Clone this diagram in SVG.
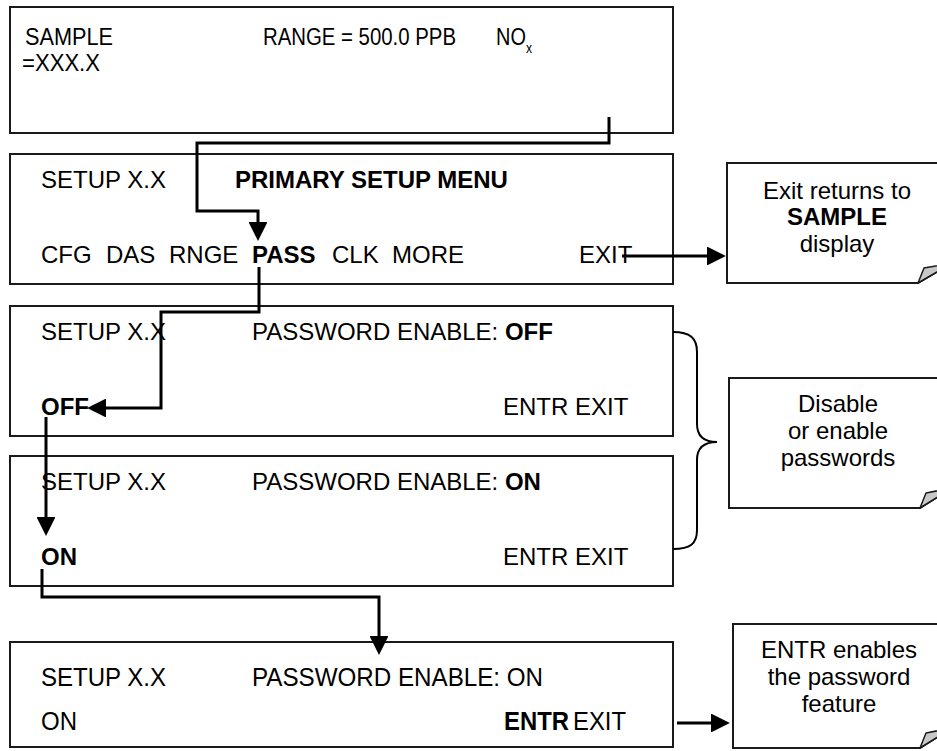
<svg xmlns="http://www.w3.org/2000/svg" width="937" height="751" viewBox="0 0 937 751">
<defs>
<style>
.panel{fill:#fff;stroke:#1a1a1a;stroke-width:2}
.note{fill:#fff;stroke:#1a1a1a;stroke-width:2}
.fold{fill:#c8c8c8;stroke:#1a1a1a;stroke-width:1.5;stroke-linejoin:round}
.t{font-family:"Liberation Sans",Arial,sans-serif;font-size:24px;fill:#000}
.n{font-family:"Liberation Sans",Arial,sans-serif;font-size:26px;fill:#000}
.s{font-family:"Liberation Sans",Arial,sans-serif;font-size:23px;fill:#000}
.b{font-weight:bold}
.c{text-anchor:middle}
.conn{fill:none;stroke:#000;stroke-width:3;stroke-linejoin:miter}
.brace{fill:none;stroke:#000;stroke-width:2}
</style>
<marker id="ah" viewBox="0 0 10 10" refX="0" refY="5" markerWidth="6.3" markerHeight="6.3" markerUnits="strokeWidth" orient="auto">
<path d="M0,0 L10,5 L0,10 Z" fill="#000"/>
</marker>
</defs>

<g id="panel-sample">
<rect class="panel" x="10" y="7" width="663" height="126"/>
<text class="s" x="25" y="45" textLength="88" lengthAdjust="spacingAndGlyphs">SAMPLE</text>
<text class="s" x="263" y="45" textLength="193" lengthAdjust="spacingAndGlyphs">RANGE = 500.0 PPB</text>
<text class="s" x="496" y="45" textLength="36" lengthAdjust="spacingAndGlyphs">NO<tspan style="font-size:14px" baseline-shift="sub">x</tspan></text>
<text class="s" x="22" y="71" textLength="78" lengthAdjust="spacingAndGlyphs">=XXX.X</text>
</g>

<g id="panel-primary">
<rect class="panel" x="10" y="154" width="663" height="130"/>
<text class="t" x="41" y="188">SETUP X.X</text>
<text class="t b" x="235" y="188">PRIMARY SETUP MENU</text>
<text class="t" y="263"><tspan x="41">CFG</tspan><tspan x="106">DAS</tspan><tspan x="169">RNGE</tspan><tspan x="252" font-weight="bold">PASS</tspan><tspan x="332">CLK</tspan><tspan x="392">MORE</tspan><tspan x="579">EXIT</tspan></text>
</g>

<g id="panel-off">
<rect class="panel" x="10" y="306" width="663" height="130"/>
<text class="t" x="41" y="340">SETUP X.X</text>
<text class="t" x="252" y="340">PASSWORD ENABLE: <tspan font-weight="bold">OFF</tspan></text>
<text class="t b" x="41" y="415">OFF</text>
<text class="t" x="503" y="415">ENTR EXIT</text>
</g>

<g id="panel-on">
<rect class="panel" x="10" y="456" width="663" height="130"/>
<text class="t" x="41" y="490">SETUP X.X</text>
<text class="t" x="252" y="490">PASSWORD ENABLE: <tspan font-weight="bold">ON</tspan></text>
<text class="t b" x="41" y="565">ON</text>
<text class="t" x="503" y="565">ENTR EXIT</text>
</g>

<g id="panel-enabled">
<rect class="panel" x="10" y="642" width="663" height="105"/>
<text class="n" x="41" y="686" textLength="125" lengthAdjust="spacingAndGlyphs">SETUP X.X</text>
<text class="n" x="252" y="686" textLength="291" lengthAdjust="spacingAndGlyphs">PASSWORD ENABLE: ON</text>
<text class="n" x="41" y="730" textLength="36" lengthAdjust="spacingAndGlyphs">ON</text>
<text class="n b" x="504" y="730" textLength="65" lengthAdjust="spacingAndGlyphs">ENTR</text>
<text class="n" x="573" y="730" textLength="53" lengthAdjust="spacingAndGlyphs">EXIT</text>
</g>

<g id="note-exit">
<path class="note" d="M727,163 H952 V263 L918,283 H727 Z"/>
<path class="fold" d="M918,283 L924,268 L952,263 Z"/>
<text class="t c" x="837" y="199">Exit returns to</text>
<text class="t c b" x="837" y="225">SAMPLE</text>
<text class="t c" x="837" y="252">display</text>
</g>

<g id="note-disable">
<path class="note" d="M729,378 H952 V488 L920,508 H729 Z"/>
<path class="fold" d="M920,508 L926,493 L952,488 Z"/>
<text class="t c" x="838" y="412">Disable</text>
<text class="t c" x="838" y="439">or enable</text>
<text class="t c" x="838" y="466">passwords</text>
</g>

<g id="note-entr">
<path class="note" d="M733,624 H952 V728 L920,748 H733 Z"/>
<path class="fold" d="M920,748 L926,733 L952,728 Z"/>
<text class="t c" x="839" y="658">ENTR enables</text>
<text class="t c" x="839" y="685">the password</text>
<text class="t c" x="839" y="712">feature</text>
</g>

<g id="brace">
<path class="brace" d="M673,332 C690,332 697,338 697,352 V424 C697,436 703,442 717,442 C703,442 697,448 697,460 V530 C697,544 690,549 673,549"/>
</g>

<g id="connectors">
<path class="conn" d="M609,117 V143 H197 V211 H258 V222" marker-end="url(#ah)"/>
<path class="conn" d="M259,267 V312 H161 V408 H106" marker-end="url(#ah)"/>
<path class="conn" d="M46,417 V517" marker-end="url(#ah)"/>
<path class="conn" d="M42,569 V597 H379 V636" marker-end="url(#ah)"/>
<path class="conn" d="M622,256 H707" marker-end="url(#ah)"/>
<path class="conn" d="M677,723 H711" marker-end="url(#ah)"/>
</g>
</svg>
